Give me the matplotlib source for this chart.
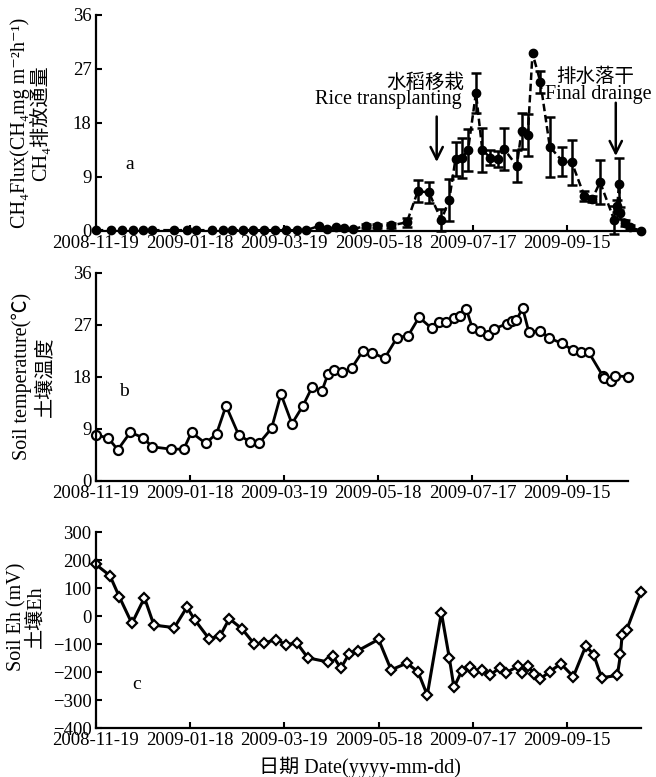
import numpy as np
import matplotlib
matplotlib.use("Agg")
import matplotlib.pyplot as plt

plt.rcParams['font.family'] = ['Liberation Serif', 'Noto Sans CJK SC', 'DejaVu Sans']

START = np.datetime64('2008-11-19')
tick_labels = ['2008-11-19', '2009-01-18', '2009-03-19', '2009-05-18', '2009-07-17', '2009-09-15']

# a: CH4 flux (days after 2008-11-19)
ch4_days = [0, 10, 17, 24, 30, 36, 50, 58, 64, 74, 81, 87, 94, 100, 107, 114, 121, 128, 134,
            142, 147, 153, 158, 164, 172, 179, 188, 198, 205, 212, 220, 225, 229, 233, 237, 242,
            246, 251, 256, 260, 268, 271, 275, 278, 283, 289, 297, 303, 311, 316, 321, 330, 332,
            333, 334, 337, 340, 347]
ch4_flux = [0.1, 0.1, 0.1, 0.1, 0.1, 0.1, 0.1, 0.1, 0.1, 0.1, 0.1, 0.1, 0.1, 0.1, 0.1, 0.1, 0.1, 0.1, 0.1,
            0.8, 0.3, 0.6, 0.4, 0.3, 0.8, 0.8, 0.9, 1.4, 6.6, 6.4, 1.8, 5.2, 12.0, 12.1, 13.5, 23.0,
            13.5, 12.2, 12.0, 13.6, 10.8, 16.6, 16.0, 29.6, 24.8, 14.0, 11.6, 11.4, 5.8, 5.3, 8.1, 1.8, 4.1,
            7.8, 2.9, 1.3, 0.6, 0.0]
ch4_err = [0, 0, 0, 0, 0, 0, 0, 0, 0, 0, 0, 0, 0, 0, 0, 0, 0, 0, 0,
           0, 0, 0, 0, 0, 0.4, 0.4, 0.4, 0.8, 1.8, 1.7, 1.8, 3.5, 2.8, 3.3, 3.5, 3.3,
           3.7, 1.2, 1.3, 3.5, 2.6, 3.0, 3.5, 0, 1.8, 5.0, 2.4, 3.7, 0.9, 0.5, 3.7, 2.3, 1.0,
           4.4, 1.0, 0.5, 0.3, 0]

# b: soil temperature
temp_days = [0, 8, 14, 22, 30, 36, 48, 56, 61, 70, 77, 83, 91, 98, 104, 112, 118, 125, 132, 138,
             144, 148, 152, 157, 163, 170, 176, 184, 192, 199, 206, 214, 219, 223, 228, 232, 236, 240,
             245, 250, 254, 262, 265, 268, 272, 276, 283, 289, 297, 304, 309, 314, 323, 324, 328, 331, 339]
soil_temp = [8.0, 7.4, 5.4, 8.4, 7.5, 5.9, 5.5, 5.5, 8.4, 6.5, 8.2, 13.0, 8.0, 6.8, 6.5, 9.1, 15.0, 9.9, 13.0, 16.3,
             15.5, 18.5, 19.1, 18.8, 19.5, 22.4, 22.2, 21.2, 24.8, 25.1, 28.3, 26.4, 27.4, 27.4, 28.2, 28.6, 29.8, 26.4,
             25.9, 25.3, 26.3, 27.2, 27.7, 27.8, 29.9, 25.7, 26.0, 24.7, 23.8, 22.6, 22.3, 22.3, 18.2, 17.8, 17.3, 18.2, 18.0]

# c: soil Eh
eh_days = [0, 9, 15, 23, 31, 37, 50, 58, 63, 72, 79, 85, 93, 101, 107, 115, 121, 128, 135, 148,
           151, 156, 161, 167, 180, 188, 198, 205, 211, 220, 225, 228, 233, 238, 241, 246, 251, 257,
           261, 269, 271, 275, 279, 283, 289, 296, 304, 312, 317, 322, 332, 334, 335, 338, 347]
soil_eh = [185, 145, 69, -26, 66, -32, -41, 32, -13, -80, -72, -9, -45, -100, -96, -84, -102, -96, -149, -164,
           -143, -186, -137, -123, -83, -192, -168, -198, -282, 12, -148, -255, -195, -180, -198, -192, -211, -185,
           -203, -178, -203, -178, -206, -224, -198, -170, -216, -105, -139, -220, -212, -137, -69, -48, 86]


def to_dates(days):
    return START + np.array(days).astype('timedelta64[D]')


def style_axis(ax, last_day):
    for side in ['top', 'right']:
        ax.spines[side].set_visible(False)
    for side in ['left', 'bottom']:
        ax.spines[side].set_linewidth(1.6)
    ax.tick_params(direction='in', length=4, width=1.5, labelsize=13.5, pad=3)
    ax.set_xticks(np.array(tick_labels, dtype='datetime64[D]'))
    ax.set_xticklabels(tick_labels)
    ax.set_xlim(START, START + np.timedelta64(last_day, 'D'))


fig = plt.figure(figsize=(6.56, 7.77), dpi=100)
ax_a = fig.add_axes([0.146, 0.703, 0.831, 0.278])
ax_b = fig.add_axes([0.146, 0.381, 0.811, 0.268])
ax_c = fig.add_axes([0.146, 0.063, 0.831, 0.252])

# panel a
xa = to_dates(ch4_days)
ya = np.array(ch4_flux)
ea = np.array(ch4_err)
ax_a.plot(xa, ya, '--', color='k', lw=1.8, dashes=(3, 1.5), clip_on=False)
m = ea > 0
ax_a.errorbar(xa[m], ya[m], yerr=ea[m], fmt='none', ecolor='k', elinewidth=1.8,
              capsize=3.5, capthick=1.8, clip_on=False)
ax_a.plot(xa, ya, 'o', color='k', ms=6, clip_on=False, zorder=3)
style_axis(ax_a, 347)
ax_a.set_ylim(0, 36)
ax_a.set_yticks([0, 9, 18, 27, 36])
ax_a.set_ylabel('CH\u2084Flux(CH\u2084mg m\u207b\u00b2h\u207b\u00b9)\nCH\u2084排放通量', fontsize=14.5,
                linespacing=1.0, va='center')
ax_a.yaxis.set_label_coords(-0.12, 0.5)
ax_a.text(0.062, 0.305, 'a', transform=ax_a.transAxes, fontsize=14, ha='center', va='center')

ax_a.annotate('', xy=(START + np.timedelta64(217, 'D'), 11.0),
              xytext=(START + np.timedelta64(217, 'D'), 19.5),
              arrowprops=dict(arrowstyle='->', lw=1.8, color='k', mutation_scale=22))
ax_a.annotate('', xy=(START + np.timedelta64(331, 'D'), 12.0),
              xytext=(START + np.timedelta64(331, 'D'), 21.8),
              arrowprops=dict(arrowstyle='->', lw=1.8, color='k', mutation_scale=22))
ax_a.text(START + np.timedelta64(210, 'D'), 24.7, '水稻移栽', fontsize=14, ha='center', va='center')
ax_a.text(START + np.timedelta64(186, 'D'), 21.8, 'Rice transplanting', fontsize=14.5,
          ha='center', va='center')
ax_a.text(START + np.timedelta64(318, 'D'), 25.7, '排水落干', fontsize=14, ha='center', va='center')
ax_a.text(START + np.timedelta64(286, 'D'), 22.7, 'Final drainge', fontsize=14.5,
          ha='left', va='center', clip_on=False)

# panel b
ax_b.plot(to_dates(temp_days), soil_temp, '-o', color='k', lw=2, ms=6.5, mfc='white',
          mec='k', mew=1.6, clip_on=False)
style_axis(ax_b, 339)
ax_b.set_ylim(0, 36)
ax_b.set_yticks([0, 9, 18, 27, 36])
ax_b.set_ylabel('Soil temperature(\u2103)\n土壤温度', fontsize=14.5, linespacing=1.3, va='center')
ax_b.yaxis.set_label_coords(-0.118, 0.5)
ax_b.text(0.053, 0.428, 'b', transform=ax_b.transAxes, fontsize=14, ha='center', va='center')

# panel c
ax_c.plot(to_dates(eh_days), soil_eh, '-D', color='k', lw=2.2, ms=5, mfc='white',
          mec='k', mew=1.6, clip_on=False)
style_axis(ax_c, 347)
ax_c.set_ylim(-400, 300)
ax_c.set_yticks(np.arange(-400, 301, 100))
ax_c.set_ylabel('Soil Eh (mV)\n土壤Eh', fontsize=14.5, linespacing=1.0, va='center')
ax_c.yaxis.set_label_coords(-0.128, 0.57)
ax_c.text(0.075, 0.22, 'c', transform=ax_c.transAxes, fontsize=14, ha='center', va='center')
ax_c.set_xlabel('日期 Date(yyyy-mm-dd)', fontsize=14.5)
ax_c.xaxis.set_label_coords(0.484, -0.145)

fig.savefig('out.png', dpi=100)
